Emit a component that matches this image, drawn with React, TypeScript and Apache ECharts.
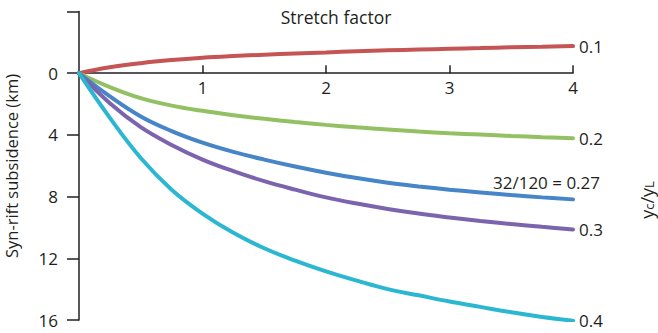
import React, { useEffect, useRef } from "react";
import * as echarts from "echarts";

const stretch = [0, 0.25, 0.5, 0.75, 1, 1.25, 1.5, 1.75, 2, 2.25, 2.5, 2.75, 3, 3.25, 3.5, 3.75, 4];
const ratio01 = [0, -0.38, -0.65, -0.85, -1.0, -1.11, -1.2, -1.28, -1.35, -1.42, -1.48, -1.53, -1.58, -1.63, -1.68, -1.72, -1.76];
const ratio02 = [0, 0.9, 1.62, 2.1, 2.44, 2.72, 2.96, 3.17, 3.35, 3.51, 3.65, 3.78, 3.89, 3.98, 4.07, 4.15, 4.22];
const ratio027 = [0, 1.5, 2.8, 3.75, 4.5, 5.1, 5.6, 6.05, 6.45, 6.8, 7.1, 7.34, 7.55, 7.73, 7.9, 8.05, 8.18];
const ratio03 = [0, 1.95, 3.5, 4.65, 5.6, 6.35, 7.0, 7.55, 8.05, 8.45, 8.8, 9.1, 9.35, 9.58, 9.78, 9.96, 10.13];
const ratio04 = [0, 2.9, 5.5, 7.55, 9.1, 10.35, 11.35, 12.15, 12.85, 13.45, 14.0, 14.4, 14.8, 15.15, 15.5, 15.8, 16.05];

const xTicks = [0, 1, 2, 3, 4];
const yTicks = [-4, 0, 4, 8, 12, 16];

const seriesNames = ["0.1", "0.2", "32/120 = 0.27", "0.3", "0.4"];
const seriesValues = [ratio01, ratio02, ratio027, ratio03, ratio04];
const seriesColors = ["#c55555", "#93c062", "#4685c8", "#7b64ad", "#2bb6d2"];

const FONT = "'Open Sans', 'Noto Sans', sans-serif";
const INK = "#231f20";

const GRID_LEFT = 79;
const GRID_RIGHT = 85;
const GRID_TOP = 11.5;
const GRID_BOTTOM = 13;
const PLOT_H = 333 - GRID_TOP - GRID_BOTTOM;

export default function App() {
  const ref = useRef<HTMLDivElement>(null);
  useEffect(() => {
    if (!ref.current) return;
    const chart = echarts.init(ref.current, undefined, { renderer: "svg" });
    const yMin = yTicks[0];
    const yMax = yTicks[yTicks.length - 1];
    const zeroOffset = (PLOT_H * (0 - yMin)) / (yMax - yMin);

    const series = seriesValues.map((vals, i) => {
      const isBlue = i === 2;
      return {
        type: "line",
        name: seriesNames[i],
        xAxisIndex: 0,
        yAxisIndex: 0,
        data: vals.map((v, j) => [stretch[j], v]),
        smooth: 0.4,
        showSymbol: false,
        symbol: "none",
        lineStyle: { color: seriesColors[i], width: 4, cap: "round" },
        endLabel: {
          show: true,
          formatter: seriesNames[i],
          distance: 6,
          offset: isBlue ? [-86, -17] : [0, 0],
          fontSize: 17,
          fontFamily: FONT,
          color: INK,
        },
        z: 3,
      };
    });

    chart.setOption({
      animation: false,
      grid: [
        { left: GRID_LEFT, right: GRID_RIGHT, top: GRID_TOP, bottom: GRID_BOTTOM, containLabel: false },
        { left: GRID_LEFT, right: GRID_RIGHT, top: GRID_TOP, height: zeroOffset, containLabel: false },
      ],
      xAxis: [
        {
          type: "value",
          gridIndex: 0,
          min: xTicks[0],
          max: xTicks[xTicks.length - 1],
          interval: 1,
          show: false,
        },
        {
          type: "value",
          gridIndex: 1,
          position: "bottom",
          min: xTicks[0],
          max: xTicks[xTicks.length - 1],
          interval: 1,
          axisLine: { show: true, onZero: false, lineStyle: { color: INK, width: 1.5 } },
          axisTick: { show: true, inside: true, length: 8, lineStyle: { color: INK, width: 1.5 } },
          axisLabel: {
            showMinLabel: false,
            margin: 6,
            fontSize: 17,
            fontFamily: FONT,
            color: INK,
            formatter: (v: number) => (v === 0 ? "" : String(v)),
          },
          splitLine: { show: false },
        },
      ],
      yAxis: [
        {
          type: "value",
          gridIndex: 0,
          inverse: true,
          min: yMin,
          max: yMax,
          interval: 4,
          axisLine: { show: true, onZero: false, lineStyle: { color: INK, width: 1.5 } },
          axisTick: { show: true, inside: false, length: 12, lineStyle: { color: INK, width: 1.5 } },
          axisLabel: {
            margin: 21,
            fontSize: 17,
            fontFamily: FONT,
            color: INK,
            formatter: (v: number) => (v < 0 ? "" : String(v)),
          },
          splitLine: { show: false },
        },
        {
          type: "value",
          gridIndex: 1,
          min: 0,
          max: 1,
          show: false,
        },
      ],
      graphic: [
        {
          type: "text",
          x: 336,
          y: 17,
          style: {
            text: "Stretch factor",
            fontSize: 17.5,
            fontFamily: FONT,
            fill: INK,
            align: "center",
            verticalAlign: "middle",
          },
        },
        {
          type: "text",
          x: 11,
          y: 166,
          rotation: Math.PI / 2,
          style: {
            text: "Syn-rift subsidence (km)",
            fontSize: 16.5,
            fontFamily: FONT,
            fill: INK,
            align: "center",
            verticalAlign: "middle",
          },
        },
        {
          type: "text",
          x: 645,
          y: 200,
          rotation: Math.PI / 2,
          style: {
            text: "{a|y}{s|c}{a|/y}{s|L}",
            fill: INK,
            align: "center",
            verticalAlign: "middle",
            rich: {
              a: { fontSize: 18, fontFamily: FONT, fill: INK, lineHeight: 21, verticalAlign: "bottom" },
              s: { fontSize: 13, fontFamily: FONT, fill: INK, lineHeight: 14, verticalAlign: "bottom" },
            },
          },
        },
      ],
      series,
    });
    return () => chart.dispose();
  }, []);
  return (
    <div
      ref={ref}
      style={{ position: "fixed", left: 0, top: 0, width: 658, height: 333, background: "#fff" }}
    />
  );
}
